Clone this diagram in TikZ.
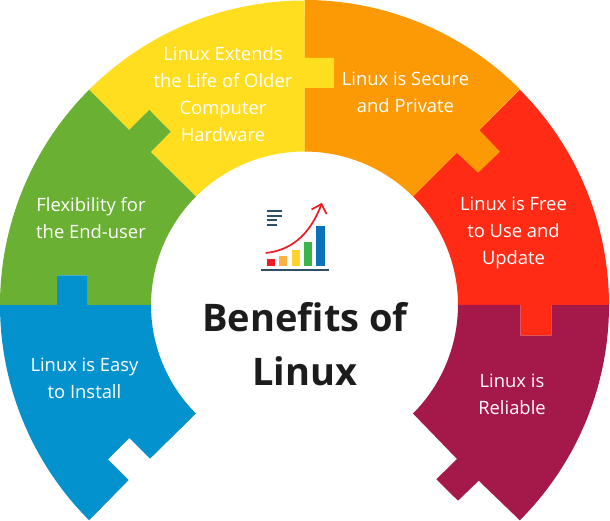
\documentclass[tikz,border=0pt]{standalone}
\usepackage{fontspec}
\setmainfont{Open Sans}
\definecolor{cyellow}{HTML}{FFDD1F}
\definecolor{corange}{HTML}{FC9A05}
\definecolor{cred}{HTML}{FF2B15}
\definecolor{cmaroon}{HTML}{A5194A}
\definecolor{cblue}{HTML}{0492CF}
\definecolor{cgreen}{HTML}{6AB033}
\definecolor{cslate}{HTML}{2F4F66}
\definecolor{ctitle}{HTML}{1C1C1C}
\definecolor{carrow}{HTML}{ED1C24}
\definecolor{cbarorange}{HTML}{FBB040}
\definecolor{cbaryellow}{HTML}{FDD22B}
\definecolor{cbargreen}{HTML}{39B54A}
\definecolor{cbarblue}{HTML}{0A72BA}
\tikzset{
  label text/.style={text=white,align=center,font=\fontsize{18.4}{27}\selectfont,inner sep=0pt},
  title text/.style={text=ctitle,align=center,font=\fontsize{38}{54}\selectfont\bfseries,inner sep=0pt},
  icon line/.style={draw=cslate,line width=1.7pt},
  icon arrow/.style={draw=carrow,line width=1.7pt}
}
\begin{document}
\begin{tikzpicture}[x=1pt,y=1pt,yscale=-1]
\useasboundingbox (0,0) rectangle (610,521);
\def\Ro{304.5}\def\Ri{153.5}
% red
\fill[cred] (519.8,89.7) arc[start angle=-45,end angle=0,radius=\Ro]
  -- (551.7,305) -- (551.7,335.7) -- (520.3,335.7) -- (520.3,305) -- (458,305)
  arc[start angle=0,end angle=-45,radius=\Ri] -- cycle;
% orange
\fill[corange] (304.5,0) arc[start angle=-90,end angle=-45,radius=\Ro]
  -- (479.3,130) -- (500,151.7) -- (478,172.7) -- (456.7,152.7) -- (413,196.5)
  arc[start angle=-45,end angle=-90,radius=\Ri] -- cycle;
% yellow
\fill[cyellow] (89.2,89.7) arc[start angle=-135,end angle=-90,radius=\Ro]
  -- (304.5,58) -- (334,58) -- (334,88) -- (304.5,88) -- (304.5,151.5)
  arc[start angle=-90,end angle=-135,radius=\Ri]
  -- (150.7,152) -- (170.7,131.7) -- (149.3,110) -- (129,130) -- cycle;
% green
\fill[cgreen] (0,305) arc[start angle=180,end angle=225,radius=\Ro]
  -- (129,130) -- (149.3,110) -- (170.7,131.7) -- (150.7,152) -- (196,196.5)
  arc[start angle=225,end angle=180,radius=\Ri]
  -- (87,305) -- (87,275.3) -- (57,275.3) -- (57,305) -- cycle;
% blue
\fill[cblue] (0,305) -- (57,305) -- (57,275.3) -- (87,275.3) -- (87,305) -- (151,305)
  arc[start angle=180,end angle=135,radius=\Ri]
  -- (150,458.7) -- (129.5,438) -- (108,459.3) -- (128.7,480) -- (89.2,520.3)
  arc[start angle=135,end angle=180,radius=\Ro] -- cycle;
% maroon
\fill[cmaroon] (609,305) arc[start angle=0,end angle=45,radius=\Ro]
  -- (478.7,480.7) -- (458,500.7) -- (436.3,479.3) -- (457,459) -- (413,413.5)
  arc[start angle=45,end angle=0,radius=\Ri]
  -- (520.3,305) -- (520.3,335.7) -- (551.7,335.7) -- (551.7,305) -- cycle;
% labels
\node[label text] (tyellow) at (223,94) {Linux Extends\\the Life of Older\\Computer\\Hardware};
\node[label text] (torange) at (405.5,92) {Linux is Secure\\and Private};
\node[label text] (tred) at (513.5,232.5) {Linux is Free\\to Use and\\Update};
\node[label text] (tmaroon) at (512,394.5) {Linux is\\Reliable};
\node[label text] (tblue) at (84.5,378.5) {Linux is Easy\\to Install};
\node[label text] (tgreen) at (91,218.5) {Flexibility for\\the End-user};
\node[title text] (title) at (305,344) {Benefits of\\Linux};
% icon
\draw[icon line] (266.7,211.3) -- (281.7,211.3);
\draw[icon line] (266.7,215.7) -- (281.7,215.7);
\draw[icon line] (266.7,220.3) -- (277,220.3);
\draw[icon line] (266.7,224.7) -- (277,224.7);
\fill[carrow] (266.7,259) rectangle (275,265.7);
\fill[cbarorange] (279,255.7) rectangle (287.3,265.7);
\fill[cbaryellow] (291.7,250) rectangle (300,265.7);
\fill[cbargreen] (304,242) rectangle (312,265.7);
\fill[cbarblue] (316.3,226) rectangle (324.7,265.7);
\draw[icon line] (261,270) -- (329,270);
\draw[icon arrow] (265.7,253) .. controls (295,250) and (312,230) .. (321.5,204);
\draw[icon arrow] (311.5,209.5) -- (321.5,204) -- (326.5,214);
\end{tikzpicture}
\end{document}
